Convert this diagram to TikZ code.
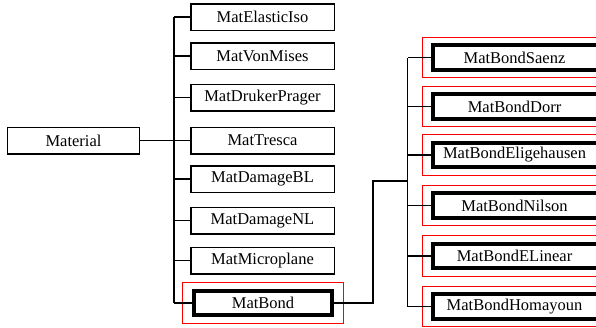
\documentclass[tikz,border=0pt]{standalone}
\usepackage{fontspec}
\setmainfont{Liberation Serif}
\usetikzlibrary{fit}
\begin{document}
\begin{tikzpicture}[x=1pt,y=-1pt,
  box/.style={draw, line width=1.5pt, minimum width=143.5pt, minimum height=26.5pt, inner sep=0pt, font=\fontsize{16.5}{18}\selectfont},
  thickbox/.style={box, line width=3.6pt, minimum width=138.5pt, minimum height=24.5pt},
  rthick/.style={thickbox, minimum width=180pt, execute at begin node={\hspace*{-16.6pt}}},
  redframe/.style={draw=red, line width=1pt, inner xsep=9pt, inner ysep=6.3pt},
  conn/.style={line width=1.7pt}]
\useasboundingbox (0,0) rectangle (596,327);
\clip (0,0) rectangle (596,327);
% root
\node[box, minimum width=132pt] (mat) at (73.5,140.5) {Material};
% left column
\node[box] (el) at (262.5,17) {MatElasticIso};
\node[box] (vm) at (262.5,56) {MatVonMises};
\node[box] (dp) at (262.5,97.5) {MatDrukerPrager};
\node[box] (tr) at (262.5,140.5) {MatTresca};
\node[box] (dbl) at (262.5,179) {MatDamageBL};
\node[box] (dnl) at (262.5,220.5) {MatDamageNL};
\node[box] (mp) at (262.5,260.5) {MatMicroplane};
\node[thickbox] (bond) at (263,303) {MatBond};
\node[redframe, fit=(bond)] (bondr) {};
% right column
\node[rthick] (sa) at (522.8,57.5) {MatBondSaenz};
\node[rthick] (do) at (522.8,106.5) {MatBondDorr};
\node[rthick] (eg) at (522.8,155) {MatBondEligehausen};
\node[rthick] (ni) at (522.8,205.5) {MatBondNilson};
\node[rthick] (eli) at (522.8,256) {MatBondELinear};
\node[rthick] (ho) at (522.8,306.5) {MatBondHomayoun};
\foreach \n in {sa,do,eg,ni,eli,ho}{\node[redframe, fit=(\n)] (\n r) {};}
% trunks
\coordinate (tk) at (174,140.5);
\coordinate (tk2) at (407.5,181);
\coordinate (elb) at (373,181);
% connectors left
\draw[conn] (mat.east) -- (tk);
\draw[conn] (tk |- el.west) -- (tk |- bond.west);
\foreach \n in {el,vm,dp,tr,dbl,dnl,mp,bond}{\draw[conn] (\n.west) -- (\n.west -| tk);}
% connectors right
\draw[conn] (bond.east) -| (elb) -- (tk2);
\draw[conn] (tk2 |- sa.west) -- (tk2 |- ho.west);
\foreach \n in {sa,do,eg,ni,eli,ho}{\draw[conn] (\n.west) -- (\n.west -| tk2);}
\end{tikzpicture}
\end{document}
